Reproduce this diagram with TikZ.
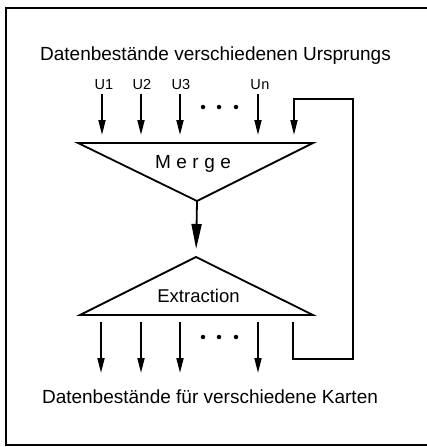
\documentclass[tikz,border=0pt]{standalone}
\usepackage{fontspec}
\setmainfont{Liberation Sans}
\usetikzlibrary{arrows.meta}
\begin{document}
\begin{tikzpicture}[x=1pt,y=-1pt, line width=1.8pt,
  arr/.style={-{Triangle[length=15pt,width=7pt]}},
  bigarr/.style={-{Triangle[length=25pt,width=10pt]}},
  big/.style={font=\fontsize{19}{21}\selectfont, inner sep=0pt},
  small/.style={font=\fontsize{14.5}{16}\selectfont, inner sep=0pt},
  dot/.style={circle, fill=black, inner sep=0pt, minimum size=4.5pt}]
\useasboundingbox (0,0) rectangle (427,447);
% frame
\draw[line width=1.4pt] (430,8) -- (6,8) -- (6,445) -- (430,445);
% titles
\node[big, anchor=base] (title) at (215.5,60) {Datenbestände verschiedenen Ursprungs};
\node[big, anchor=base] (bottomtitle) at (210,403) {Datenbestände für verschiedene Karten};
% source labels
\node[small, anchor=base] (u1) at (104,89) {U1};
\node[small, anchor=base] (u2) at (142,89) {U2};
\node[small, anchor=base] (u3) at (181,89) {U3};
\node[small, anchor=base] (un) at (260,89) {U\kern0.5pt n};
% triangles
\coordinate (ml) at (78,143);
\coordinate (mr) at (313,143);
\coordinate (mb) at (197,201);
\draw (ml) -- (mr) -- (mb) -- cycle;
\node[big, anchor=base] (merge) at (193,168) {M\hspace{5.5pt}e\hspace{5.5pt}r\hspace{5.5pt}g\hspace{5.5pt}e};
\coordinate (el) at (80,315);
\coordinate (er) at (313,315);
\coordinate (et) at (196,257);
\draw (el) -- (er) -- (et) -- cycle;
\node[font=\fontsize{18.5}{20}\selectfont, inner sep=0pt, anchor=base] (extract) at (198.5,302) {Extraction};
% inputs
\coordinate (i1) at (102,94);
\coordinate (i2) at (141,94);
\coordinate (i3) at (180,94);
\coordinate (in) at (258,94);
\foreach \c in {i1,i2,i3,in} \draw[arr] (\c) -- ++(0,41);
% dots top
\node[dot] (d1) at (203,107) {};
\node[dot] (d2) at (219,107) {};
\node[dot] (d3) at (236,107) {};
% merge -> extraction
\draw[bigarr, shorten >=8pt] (mb) -- (et);
% outputs
\coordinate (o1) at (101,322);
\coordinate (o2) at (141,322);
\coordinate (o3) at (180,322);
\coordinate (on) at (258,322);
\foreach \c in {o1,o2,o3,on} \draw[arr] (\c) -- ++(0,51);
% dots bottom
\node[dot] (e1) at (203,337) {};
\node[dot] (e2) at (219,337) {};
\node[dot] (e3) at (236,337) {};
% feedback loop
\coordinate (fbout) at (293,322);
\coordinate (fbin) at (294,135);
\draw[arr] (fbout) -- (293,359) -- (353,359) -- (353,99) -- (294,99) -- (fbin);
\end{tikzpicture}
\end{document}
